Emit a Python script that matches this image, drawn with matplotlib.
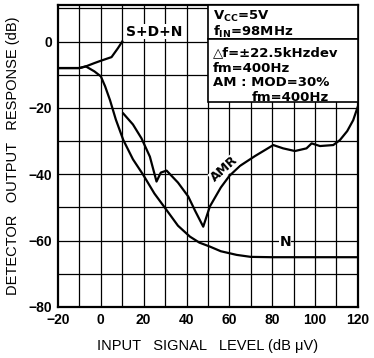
import matplotlib.pyplot as plt
import numpy as np

plt.rcParams['font.family'] = ['Liberation Sans', 'DejaVu Sans']
plt.rcParams['font.weight'] = 'bold'

# S+D+N curve (dB)
sdn_x = [-20, -10, -7, -3, 0, 5, 8, 10]
sdn_y = [-8, -8, -7.5, -6.5, -5.8, -4.7, -2, 0]

# N curve
n_x = [-20, -10, -7, -3, 0, 2, 4.3, 7, 10.5, 15, 19.8, 25, 30.7, 36, 41.6, 46, 50.9, 56, 63.4, 70, 80, 90, 100, 110, 120]
n_y = [-8, -8, -7.5, -9, -10.5, -13.5, -17.7, -23.5, -29.7, -35.5, -40.2, -45.8, -50.8, -55.5, -58.8, -60.6, -61.8, -63.2, -64.3, -64.9, -65, -65, -65, -65, -65]

# AMR curve
amr_x = [10.5, 15, 19, 22.9, 26, 28, 30.7, 36, 40.8, 44, 47.8, 50.9, 56, 60, 64.9, 72, 80.5, 85.1, 90.6, 96, 98.4, 102.3, 108.5, 111.6, 115, 117.8, 120]
amr_y = [-21.7, -25, -29.2, -34.7, -42.2, -39.5, -38.9, -42.5, -46.7, -51, -55.8, -49.7, -44, -40.5, -37.5, -34.5, -31.2, -32.2, -33, -32.2, -30.7, -31.5, -31.2, -29.7, -27, -23.7, -19.5]

fig = plt.figure(figsize=(3.74, 3.58), dpi=100)
ax = fig.add_axes([0.155, 0.1425, 0.802, 0.8435])

ax.set_xlim(-20, 120)
ax.set_ylim(-80, 11)

for x in range(-10, 120, 10):
    ax.axvline(x, color='black', lw=0.9, zorder=1)
for y in range(-70, 11, 10):
    ax.axhline(y, color='black', lw=0.9, zorder=1)

ax.plot(sdn_x, sdn_y, color='black', lw=1.6, zorder=3)
ax.plot(n_x, n_y, color='black', lw=1.6, zorder=3)
ax.plot(amr_x, amr_y, color='black', lw=1.6, zorder=3)

wide = ['DejaVu Sans']
# labels on curves
ax.text(25, 3.0, 'S+D+N', ha='center', va='center', fontsize=10, family=wide,
        bbox=dict(facecolor='white', edgecolor='none', pad=0.5), zorder=4)
ax.text(86, -60.5, 'N', ha='center', va='center', fontsize=10, family=wide,
        bbox=dict(facecolor='white', edgecolor='none', pad=0.3), zorder=4)
ax.text(57.5, -38.5, 'AMR', ha='center', va='center', fontsize=9, rotation=42, family=wide,
        bbox=dict(facecolor='white', edgecolor='none', pad=0.3), zorder=4)

# condition boxes
ax.add_patch(plt.Rectangle((50, 0.9), 70, 10.1, facecolor='white', edgecolor='black', lw=1.2, zorder=5))
ax.add_patch(plt.Rectangle((50, -18.3), 70, 19.2, facecolor='white', edgecolor='black', lw=1.2, zorder=5))
bx = dict(fontsize=9.5, va='center', zorder=6, family=wide)
ax.text(52.3, 7.7, 'V$_{\\mathbf{CC}}$=5V', **bx)
ax.text(52.3, 2.8, 'f$_{\\mathbf{IN}}$=98MHz', **bx)
ax.text(52.3, -3.3, '\u25b3f=\u00b122.5kHzdev', **bx)
ax.text(52.3, -8.2, 'fm=400Hz', **bx)
ax.text(52.3, -12.5, 'AM : MOD=30%', **bx)
ax.text(70.5, -17.0, 'fm=400Hz', **bx)

ax.set_xticks(range(-20, 121, 20))
ax.set_yticks(range(-80, 1, 20))
ax.tick_params(length=0, labelsize=10, pad=4)
for s in ax.spines.values():
    s.set_linewidth(1.6)

ax.set_xlabel('INPUT   SIGNAL   LEVEL (dB \u03bcV)', fontsize=10.5, labelpad=9)
ax.set_ylabel('DETECTOR   OUTPUT   RESPONSE (dB)', fontsize=10.5, labelpad=6)

fig.savefig('out.png', dpi=100)
